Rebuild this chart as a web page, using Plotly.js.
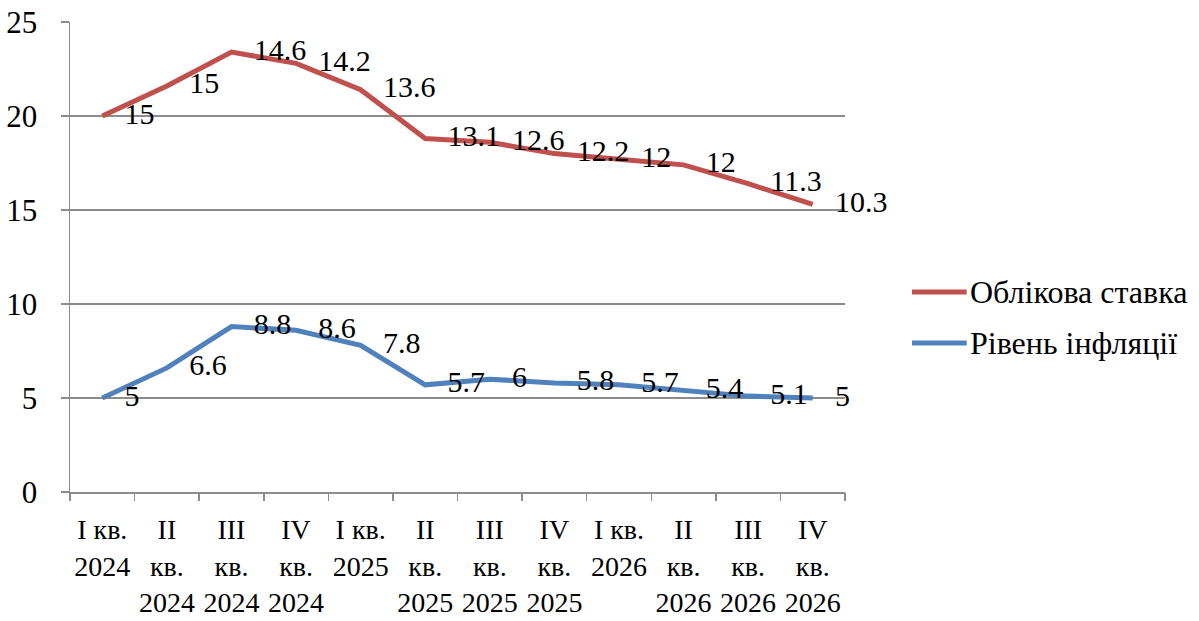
<!DOCTYPE html>
<html>
<head>
<meta charset="utf-8">
<script src="https://cdn.plot.ly/plotly-3.0.1.min.js"></script>
<style>html,body{margin:0;padding:0;background:#fff;}#chart{width:1199px;height:621px;}</style>
</head>
<body>
<div id="chart"></div>
<script>
const categories = ["I кв.<br>2024","II<br>кв.<br>2024","III<br>кв.<br>2024","IV<br>кв.<br>2024",
  "I кв.<br>2025","II<br>кв.<br>2025","III<br>кв.<br>2025","IV<br>кв.<br>2025",
  "I кв.<br>2026","II<br>кв.<br>2026","III<br>кв.<br>2026","IV<br>кв.<br>2026"];
const inflation = [5, 6.6, 8.8, 8.6, 7.8, 5.7, 6, 5.8, 5.7, 5.4, 5.1, 5];
const discountRate = [15, 15, 14.6, 14.2, 13.6, 13.1, 12.6, 12.2, 12, 12, 11.3, 10.3];
const yTicks = [0, 5, 10, 15, 20, 25];
const seriesNames = ["Облікова ставка", "Рівень інфляції"];
const seriesColors = ["#C0504D", "#4F81BD"];

const font = "Liberation Serif";
const idx = categories.map((_, i) => i);

const traces = [
  {
    name: seriesNames[1], x: idx, y: inflation, stackgroup: "one", fill: "none",
    mode: "lines+markers+text", text: inflation.map(String), textposition: "middle right",
    textfont: {family: font, size: 30, color: "#000"}, cliponaxis: false,
    line: {color: seriesColors[1], width: 5}, marker: {size: 34, color: "rgba(0,0,0,0)"},
    hoverinfo: "skip", showlegend: false
  },
  {
    name: seriesNames[0], x: idx, y: discountRate, stackgroup: "one", fill: "none",
    mode: "lines+markers+text", text: discountRate.map(String), textposition: "middle right",
    textfont: {family: font, size: 30, color: "#000"}, cliponaxis: false,
    line: {color: seriesColors[0], width: 5}, marker: {size: 34, color: "rgba(0,0,0,0)"},
    hoverinfo: "skip", showlegend: false
  },
  {x: [0], y: [0], xaxis: "x2", yaxis: "y", mode: "markers",
   marker: {opacity: 0}, showlegend: false, hoverinfo: "skip"}
];

// manual legend (paper coordinates)
const legY = [0.4255, 0.317];
const shapes = seriesNames.map((n, i) => ({
  type: "line", xref: "paper", yref: "paper", x0: 1.0865, x1: 1.157, y0: legY[i], y1: legY[i],
  line: {color: seriesColors[i], width: 5}
}));
const annotations = seriesNames.map((n, i) => ({
  xref: "paper", yref: "paper", x: 1.159, y: legY[i], xanchor: "left", yanchor: "middle",
  text: n, showarrow: false, font: {family: font, size: 32, color: "#000"}
}));

const layout = {
  width: 1199, height: 621,
  margin: {l: 70, r: 354, t: 22, b: 129},
  paper_bgcolor: "#fff", plot_bgcolor: "#fff",
  font: {family: font, size: 30, color: "#000"},
  showlegend: false,
  shapes: shapes, annotations: annotations,
  xaxis: {
    type: "linear", range: [-0.5, 11.5], tickmode: "array", tickvals: idx, ticktext: categories,
    showgrid: false, zeroline: false, showline: true, linecolor: "#8c8c8c", linewidth: 1.5,
    ticks: "", ticklabelstandoff: 12, tickfont: {family: font, size: 28, color: "#000"}, fixedrange: true
  },
  xaxis2: {
    overlaying: "x", range: [-0.5, 11.5], tickmode: "array",
    tickvals: [-0.5,0.5,1.5,2.5,3.5,4.5,5.5,6.5,7.5,8.5,9.5,10.5,11.5],
    showticklabels: false, ticks: "outside", ticklen: 8, tickcolor: "#8c8c8c", tickwidth: 1.5,
    showgrid: false, zeroline: false, anchor: "y", side: "bottom"
  },
  yaxis: {
    range: [0, 25], tickmode: "array", tickvals: yTicks, ticks: "outside", ticklen: 8,
    tickcolor: "#8c8c8c", tickwidth: 1.5, showline: true, linecolor: "#8c8c8c", linewidth: 1.5,
    gridcolor: "#8c8c8c", gridwidth: 1.5, zeroline: false, ticklabelstandoff: 17,
    tickfont: {family: font, size: 31, color: "#000"}, fixedrange: true
  }
};

Plotly.newPlot("chart", traces, layout, {displayModeBar: false, staticPlot: true});
</script>
</body>
</html>
